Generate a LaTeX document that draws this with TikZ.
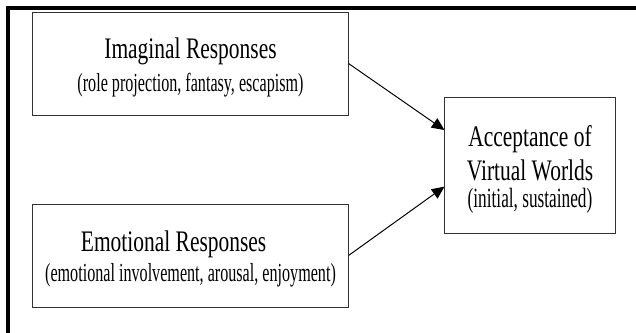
\documentclass[tikz,border=0pt]{standalone}
\usepackage{fontspec}
\setmainfont{Liberation Serif}[FakeStretch=0.72]
\newfontfamily\subfont{Liberation Serif}[FakeStretch=0.62]
\usepackage{tikz}
\usetikzlibrary{arrows.meta}

\newcommand{\tstrut}{\rule{0pt}{19.9pt}}
\newcommand{\titlesize}{\fontsize{21.2pt}{23.5pt}\selectfont}
\newcommand{\subsize}{\subfont\fontsize{18.5pt}{23.5pt}\selectfont}

\begin{document}
\begin{tikzpicture}[x=0.025cm,y=-0.025cm,
  resp/.style={draw=black!80,line width=0.7pt,minimum width=7.875cm,minimum height=2.575cm,align=center,inner sep=0pt,font=\titlesize},
  link/.style={line width=0.7pt,-{Triangle[length=9pt,width=8pt]}}]
\useasboundingbox (0,0) rectangle (636,332);
% Frame
\draw[line width=2.2pt] (8,345) -- (8,8) -- (650,8);
% Boxes
\node[resp] (imag) at (190.5,63.5) {\tstrut Imaginal Responses\\ {\subsize (role projection, fantasy, escapism)}};
\node[resp] (emot) at (190.5,255.5) {\tstrut Emotional Responses\hspace*{24pt}\\[-2.2pt] {\subsize (emotional involvement, arousal, enjoyment)}};
\node[resp,minimum width=4.25cm,minimum height=3.375cm] (accept) at (530,165.5) {\tstrut Acceptance of\\[0.7pt] Virtual Worlds\\[-4.3pt] {\subfont\fontsize{19.8pt}{23.5pt}\selectfont (initial, sustained)}};
% Arrows
\draw[link] (imag.east) -- ([yshift=25.2pt]accept.west);
\draw[link] (emot.east) -- ([yshift=-15pt]accept.west);
\end{tikzpicture}
\end{document}
